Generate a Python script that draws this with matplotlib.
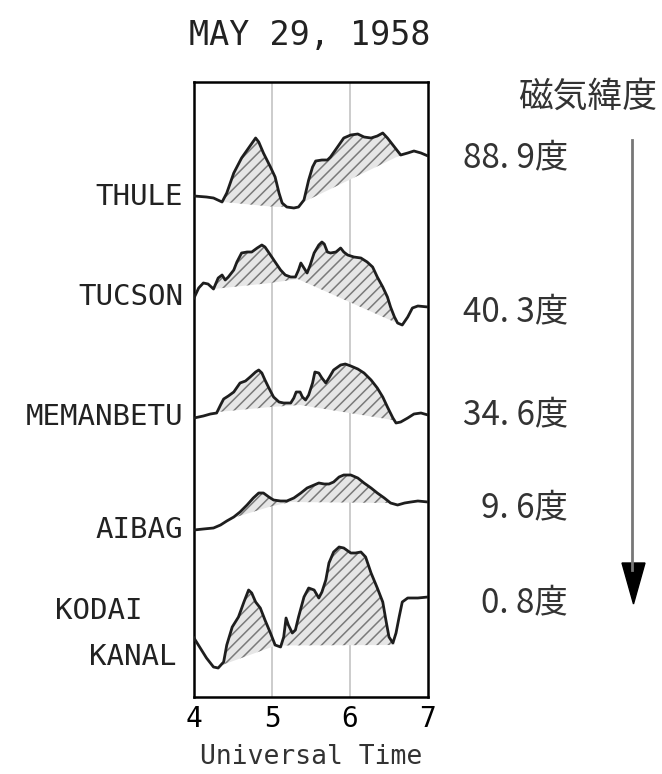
import numpy as np
import matplotlib
matplotlib.use('Agg')
import matplotlib.pyplot as plt
import matplotlib.transforms as mtransforms
from matplotlib.lines import Line2D
from matplotlib.patches import Polygon

plt.rcParams['hatch.linewidth'] = 1.1
MONO = 'DejaVu Sans Mono'
JP = 'Noto Sans CJK JP'

# magnetogram traces (time in UT hours, deflection in plot units) and the
# quiet-level reference line under each disturbance
thule_t = [4.00, 4.16, 4.25, 4.36, 4.42, 4.51, 4.61, 4.70, 4.79, 4.83, 4.89, 4.98, 5.04, 5.09, 5.13,
           5.19, 5.28, 5.34, 5.41, 5.47, 5.52, 5.56, 5.64, 5.71, 5.75, 5.84, 5.92, 6.01, 6.10, 6.18,
           6.27, 6.35, 6.42, 6.48, 6.57, 6.65, 6.74, 6.82, 6.91, 7.00]
thule_v = [1, 0, -1, -5, 4, 24, 39, 49, 59, 55, 44, 30, 20, 4, -6,
           -10, -11, -10, -3, 17, 30, 36, 37, 37, 40, 50, 59, 62, 63, 60,
           59, 61, 64, 59, 50, 42, 44, 46, 44, 41]
thule_base_t = [4.00, 4.38, 5.05, 5.30, 6.65, 7.00]
thule_base_v = [5, -5, -10, -9, 42, 60]

tucson_t = [4.00, 4.06, 4.12, 4.18, 4.25, 4.31, 4.36, 4.40, 4.44, 4.51, 4.55, 4.61, 4.68, 4.74, 4.81,
            4.87, 4.91, 4.98, 5.04, 5.11, 5.17, 5.24, 5.30, 5.34, 5.37, 5.41, 5.45, 5.49, 5.54, 5.60,
            5.64, 5.67, 5.71, 5.75, 5.82, 5.88, 5.92, 5.97, 6.05, 6.14, 6.22, 6.29, 6.35, 6.42, 6.48,
            6.52, 6.57, 6.61, 6.67, 6.74, 6.80, 6.87, 7.00]
tucson_v = [-1, 9, 14, 13, 8, 19, 22, 17, 20, 27, 35, 44, 45, 45, 49,
            52, 50, 42, 35, 27, 22, 20, 20, 27, 34, 29, 24, 32, 44, 52,
            55, 53, 45, 44, 45, 49, 45, 42, 40, 39, 35, 30, 20, 10, 0,
            -10, -20, -26, -28, -20, -11, -9, -10]
tucson_base_t = [4.00, 4.19, 4.25, 4.98, 5.33, 6.57, 7.00]
tucson_base_v = [24, 14, 8, 14, 18, -25, 0]

memanbetu_t = [4.00, 4.12, 4.21, 4.29, 4.34, 4.38, 4.44, 4.51, 4.59, 4.66, 4.72, 4.79, 4.83, 4.87, 4.91,
               4.96, 5.02, 5.09, 5.15, 5.24, 5.28, 5.31, 5.36, 5.39, 5.43, 5.47, 5.52, 5.55, 5.60, 5.64,
               5.69, 5.73, 5.79, 5.88, 5.94, 6.01, 6.10, 6.18, 6.27, 6.35, 6.42, 6.48, 6.55, 6.59, 6.65,
               6.74, 6.82, 6.91, 7.00]
memanbetu_v = [-1, 1, 3, 4, 12, 18, 21, 25, 34, 36, 40, 45, 47, 44, 37,
               29, 20, 15, 14, 14, 19, 25, 25, 20, 17, 22, 34, 45, 44, 39,
               34, 39, 47, 52, 53, 51, 48, 44, 37, 29, 20, 10, -1, -6, -5,
               -1, 3, 4, 2]
memanbetu_base_t = [4.00, 4.30, 4.98, 5.36, 6.55, 7.00]
memanbetu_base_v = [4, 5, 10, 12, -3, 8]

aibag_t = [4.00, 4.12, 4.25, 4.34, 4.42, 4.51, 4.59, 4.68, 4.76, 4.83, 4.89, 4.96, 5.02, 5.11, 5.19,
           5.28, 5.37, 5.45, 5.54, 5.60, 5.67, 5.73, 5.79, 5.86, 5.92, 6.01, 6.10, 6.18, 6.27, 6.35,
           6.44, 6.52, 6.61, 6.70, 6.78, 6.87, 7.00]
aibag_v = [0, 1, 2, 5, 9, 13, 18, 25, 32, 37, 37, 33, 30, 29, 29,
           32, 37, 42, 45, 47, 46, 46, 48, 53, 55, 55, 52, 47, 42, 37,
           32, 27, 25, 27, 28, 29, 28]
aibag_base_t = [4.00, 4.50, 4.96, 5.24, 6.52, 7.00]
aibag_base_v = [3, 12, 23, 28, 27, 35]

kodai_t = [4.00, 4.08, 4.16, 4.25, 4.31, 4.38, 4.42, 4.49, 4.57, 4.64, 4.70, 4.74, 4.79, 4.85, 4.91,
           4.98, 5.04, 5.11, 5.15, 5.18, 5.21, 5.26, 5.30, 5.34, 5.41, 5.47, 5.54, 5.60, 5.64, 5.69,
           5.73, 5.79, 5.86, 5.92, 6.01, 6.07, 6.14, 6.20, 6.27, 6.35, 6.42, 6.46, 6.50, 6.55, 6.59,
           6.63, 6.67, 6.74, 6.87, 7.00]
kodai_v = [-1, -11, -21, -30, -31, -25, -8, 10, 20, 35, 47, 44, 35, 29, 17,
           4, -8, -10, 0, 19, 12, 4, 7, 20, 40, 49, 47, 39, 45, 57,
           74, 85, 90, 89, 84, 84, 85, 80, 64, 49, 35, 17, 0, -6, 4,
           20, 35, 39, 39, 40]
kodai_base_t = [4.00, 4.36, 5.05, 6.57, 6.60, 7.00]
kodai_base_v = [0, -28, -8.5, -8, 60, 60]

station_names = ['THULE', 'TUCSON', 'MEMANBETU', 'AIBAG', 'KODAI KANAL']
station_levels = [500, 400, 280, 167, 60]
mag_lat = ['88. 9度', '40. 3度', '34. 6度', '9. 6度', '0. 8度']

traces = [
    (thule_t, thule_v, thule_base_t, thule_base_v),
    (tucson_t, tucson_v, tucson_base_t, tucson_base_v),
    (memanbetu_t, memanbetu_v, memanbetu_base_t, memanbetu_base_v),
    (aibag_t, aibag_v, aibag_base_t, aibag_base_v),
    (kodai_t, kodai_v, kodai_base_t, kodai_base_v),
]

W, H = 662, 774
fig = plt.figure(figsize=(W / 100, H / 100), dpi=100)
ax = fig.add_axes([194 / W, 77 / H, 234 / W, 615 / H])

for (t, v, bt, bv), lev in zip(traces, station_levels):
    tt = np.union1d(t, bt)
    vv = np.interp(tt, t, v) + lev
    bb = np.interp(tt, bt, bv) + lev
    ax.fill_between(tt, bb, vv, where=vv > bb, interpolate=True,
                    facecolor='#e6e6e6', edgecolor='#7a7a7a', hatch='///', linewidth=0, zorder=2)
    ax.plot(t, np.array(v) + lev, color='#1e1e1e', lw=2.0, zorder=3)

for x in (5, 6):
    ax.axvline(x, color='#c8c8c8', lw=1.3, zorder=1)

ax.set_xlim(4, 7)
ax.set_ylim(0, 615)
ax.set_xticks([4, 5, 6, 7])
ax.set_yticks([])
ax.tick_params(axis='x', length=0, pad=6, labelsize=20)
for lab in ax.get_xticklabels():
    lab.set_family(MONO)
for sp in ax.spines.values():
    sp.set_linewidth(1.8)
ax.set_xlabel('Universal Time', fontsize=19, family=MONO, labelpad=8, color='#333333')

# station names on the left
trans = mtransforms.blended_transform_factory(ax.transAxes, ax.transData)
for name, lev in zip(station_names[:4], station_levels[:4]):
    ax.text(-0.047, lev, name, transform=trans, ha='right', va='center',
            fontsize=21, family=MONO, color='#222222')
kodai, kanal = station_names[4].split()
ax.text(-0.594, station_levels[4] + 26, kodai, transform=trans, ha='left', va='center',
        fontsize=21, family=MONO, color='#222222')
ax.text(-0.073, station_levels[4] - 20, kanal, transform=trans, ha='right', va='center',
        fontsize=21, family=MONO, color='#222222')

# magnetic latitude column
lat_y = [158, 312, 415, 508, 603]
for s, y in zip(mag_lat, lat_y):
    fig.text(568 / W, 1 - y / H, s, ha='right', va='center', fontsize=24, family=JP, color='#333333')
fig.text(588 / W, 1 - 97 / H, '磁気緯度', ha='center', va='center', fontsize=25, family=JP, color='#333333')

fig.add_artist(Line2D([632 / W, 632 / W], [1 - 140 / H, 1 - 570 / H], color='#777777', lw=2,
                      transform=fig.transFigure))
fig.add_artist(Polygon([[622 / W, 1 - 563 / H], [645 / W, 1 - 563 / H], [633.5 / W, 1 - 604 / H]],
                       closed=True, color='black', transform=fig.transFigure))

fig.text(310 / W, 1 - 35 / H, 'MAY 29, 1958', ha='center', va='center', fontsize=24, family=MONO,
         color='#222222')

fig.savefig('out.png', dpi=100)
